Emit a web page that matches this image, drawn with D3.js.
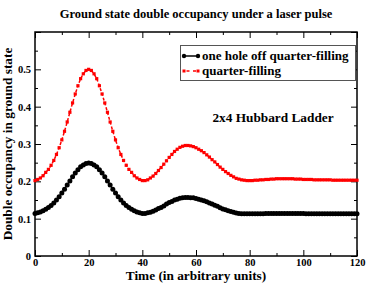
<!DOCTYPE html>
<html>
<head>
<meta charset="utf-8">
<script src="https://cdn.jsdelivr.net/npm/d3@7"></script>
<style>
  body { margin: 0; background: #fff; }
  svg text { font-family: "Liberation Serif", "Times New Roman", serif; font-weight: bold; fill: #000; }
</style>
</head>
<body>
<div id="chart"></div>
<script>
// time axis, one sample per unit
var times = d3.range(0, 121);

// one hole off quarter-filling (black)
var oneHoleOff = [
  0.114, 0.116, 0.118, 0.121, 0.125, 0.130, 0.135, 0.142, 0.150, 0.159,
  0.169, 0.179, 0.190, 0.201, 0.212, 0.222, 0.231, 0.239, 0.244, 0.248,
  0.249, 0.248, 0.244, 0.239, 0.231, 0.222, 0.212, 0.201, 0.190, 0.179,
  0.169, 0.159, 0.150, 0.142, 0.135, 0.130, 0.125, 0.121, 0.118, 0.116,
  0.114, 0.114, 0.116, 0.117, 0.120, 0.123, 0.127, 0.130, 0.134, 0.139,
  0.143, 0.146, 0.150, 0.152, 0.155, 0.156, 0.157, 0.157, 0.156, 0.156,
  0.154, 0.152, 0.150, 0.148, 0.145, 0.142, 0.139, 0.136, 0.133, 0.129,
  0.126, 0.124, 0.121, 0.119, 0.117, 0.115, 0.114, 0.113, 0.113, 0.113,
  0.113, 0.113, 0.113, 0.113, 0.113, 0.113, 0.114, 0.114, 0.114, 0.114,
  0.114, 0.114, 0.114, 0.114, 0.114, 0.114, 0.114, 0.114, 0.114, 0.114,
  0.114, 0.113, 0.113, 0.113, 0.113, 0.113, 0.113, 0.113, 0.113, 0.113,
  0.113, 0.113, 0.113, 0.113, 0.113, 0.113, 0.113, 0.113, 0.113, 0.113,
  0.113
];

// quarter-filling (red)
var quarterFilling = [
  0.202, 0.205, 0.209, 0.215, 0.224, 0.232, 0.243, 0.256, 0.272, 0.290,
  0.311, 0.334, 0.359, 0.385, 0.410, 0.434, 0.456, 0.475, 0.488, 0.497,
  0.500, 0.497, 0.488, 0.475, 0.456, 0.434, 0.410, 0.385, 0.359, 0.334,
  0.311, 0.290, 0.272, 0.256, 0.243, 0.232, 0.224, 0.215, 0.209, 0.205,
  0.202, 0.202, 0.204, 0.209, 0.214, 0.221, 0.229, 0.237, 0.246, 0.255,
  0.264, 0.272, 0.280, 0.286, 0.291, 0.294, 0.296, 0.296, 0.295, 0.293,
  0.290, 0.286, 0.282, 0.277, 0.271, 0.265, 0.258, 0.252, 0.245, 0.238,
  0.232, 0.226, 0.221, 0.216, 0.212, 0.208, 0.206, 0.204, 0.203, 0.202,
  0.202, 0.202, 0.203, 0.203, 0.204, 0.204, 0.205, 0.205, 0.206, 0.206,
  0.207, 0.207, 0.207, 0.207, 0.207, 0.207, 0.207, 0.206, 0.206, 0.206,
  0.205, 0.205, 0.205, 0.205, 0.204, 0.204, 0.204, 0.204, 0.204, 0.204,
  0.204, 0.203, 0.203, 0.203, 0.203, 0.203, 0.203, 0.203, 0.203, 0.203,
  0.203
];

var xMajor = [0, 20, 40, 60, 80, 100, 120];
var xMinor = [10, 30, 50, 70, 90, 110];
var yMajor = [0, 0.1, 0.2, 0.3, 0.4, 0.5, 0.6];
var yMinor = [0.05, 0.15, 0.25, 0.35, 0.45, 0.55];
var yLabels = [0, 0.1, 0.2, 0.3, 0.4, 0.5];

var W = 368, H = 286;
var m = { left: 35, right: 357, top: 32, bottom: 256 };

var svg = d3.select('#chart').append('svg').attr('width', W).attr('height', H);

var x = d3.scaleLinear().domain([0, 120]).range([m.left, m.right]);
var y = d3.scaleLinear().domain([0, 0.6]).range([m.bottom, m.top]);

var fmtY = d => d === 0 ? '0' : d3.format('.1f')(d);

// axes: ticks point inward on all four sides
function styleAxis(g) {
    g.select('.domain').remove();
    g.selectAll('.tick line').attr('stroke', '#000').attr('stroke-width', 1);
    g.selectAll('text').style('font-size', '10.5px');
}
svg.append('g').attr('transform', `translate(0,${m.bottom})`)
    .call(d3.axisBottom(x).tickValues(xMajor).tickSize(-6).tickPadding(3).tickFormat(d3.format('d'))).call(styleAxis);
svg.append('g').attr('transform', `translate(0,${m.bottom})`)
    .call(d3.axisBottom(x).tickValues(xMinor).tickSize(-3).tickFormat('')).call(styleAxis);
svg.append('g').attr('transform', `translate(0,${m.top})`)
    .call(d3.axisTop(x).tickValues(xMajor).tickSize(-6).tickFormat('')).call(styleAxis);
svg.append('g').attr('transform', `translate(0,${m.top})`)
    .call(d3.axisTop(x).tickValues(xMinor).tickSize(-3).tickFormat('')).call(styleAxis);
svg.append('g').attr('transform', `translate(${m.left},0)`)
    .call(d3.axisLeft(y).tickValues(yMajor).tickSize(-6).tickPadding(4).tickFormat(d => yLabels.includes(d) ? fmtY(d) : '')).call(styleAxis);
svg.append('g').attr('transform', `translate(${m.left},0)`)
    .call(d3.axisLeft(y).tickValues(yMinor).tickSize(-3).tickFormat('')).call(styleAxis);
svg.append('g').attr('transform', `translate(${m.right},0)`)
    .call(d3.axisRight(y).tickValues(yMajor).tickSize(-6).tickFormat('')).call(styleAxis);
svg.append('g').attr('transform', `translate(${m.right},0)`)
    .call(d3.axisRight(y).tickValues(yMinor).tickSize(-3).tickFormat('')).call(styleAxis);

// frame
svg.append('rect').attr('x', m.left).attr('y', m.top).attr('width', m.right - m.left).attr('height', m.bottom - m.top)
    .attr('fill', 'none').attr('stroke', '#000').attr('stroke-width', 1.5);

// series
var blackPts = times.map((t, i) => [t, oneHoleOff[i]]);
var redPts = times.map((t, i) => [t, quarterFilling[i]]);
var line = d3.line().x(d => x(d[0])).y(d => y(d[1]));

var plot = svg.append('g');
plot.append('path').datum(blackPts).attr('d', line).attr('fill', 'none').attr('stroke', '#000').attr('stroke-width', 1.5);
plot.selectAll('circle.b').data(blackPts).join('circle').attr('class', 'b')
    .attr('cx', d => x(d[0])).attr('cy', d => y(d[1])).attr('r', 2.5).attr('fill', '#000');

plot.append('path').datum(redPts).attr('d', line).attr('fill', 'none').attr('stroke', '#ff0000')
    .attr('stroke-width', 1.5).attr('stroke-dasharray', '3,2');
plot.selectAll('rect.r').data(redPts).join('rect').attr('class', 'r')
    .attr('x', d => x(d[0]) - 1.6).attr('y', d => y(d[1]) - 1.6).attr('width', 3.2).attr('height', 3.2).attr('fill', '#ff0000');

// legend
var lg = svg.append('g');
lg.append('rect').attr('x', 180.5).attr('y', 45.5).attr('width', 175).attr('height', 35)
    .attr('fill', '#fff').attr('stroke', '#555').attr('stroke-width', 1);
lg.append('line').attr('x1', 184).attr('x2', 198).attr('y1', 56).attr('y2', 56).attr('stroke', '#000').attr('stroke-width', 1.5);
[184, 198].forEach(cx => lg.append('circle').attr('cx', cx).attr('cy', 56).attr('r', 2.2).attr('fill', '#000'));
lg.append('line').attr('x1', 184).attr('x2', 198).attr('y1', 71).attr('y2', 71).attr('stroke', '#ff0000')
    .attr('stroke-width', 1.5).attr('stroke-dasharray', '3,3.5').attr('stroke-dashoffset', -2.5);
[184, 198].forEach(cx => lg.append('rect').attr('x', cx - 1.5).attr('y', 69.5).attr('width', 3).attr('height', 3).attr('fill', '#ff0000'));
lg.append('text').attr('x', 202).attr('y', 60).style('font-size', '13px').text('one hole off quarter-filling');
lg.append('text').attr('x', 202).attr('y', 75).style('font-size', '13px').text('quarter-filling');

// annotation
svg.append('text').attr('x', 273).attr('y', 122).attr('text-anchor', 'middle').style('font-size', '13.3px').text('2x4 Hubbard Ladder');

// titles
svg.append('text').attr('x', (m.left + m.right) / 2).attr('y', 18).attr('text-anchor', 'middle').style('font-size', '12.5px')
    .text('Ground state double occupancy under a laser pulse');
svg.append('text').attr('x', (m.left + m.right) / 2).attr('y', 280).attr('text-anchor', 'middle').style('font-size', '13.3px')
    .text('Time (in arbitrary units)');
svg.append('text').attr('transform', `translate(12,${(m.top + m.bottom) / 2}) rotate(-90)`).attr('text-anchor', 'middle').style('font-size', '13.3px')
    .text('Double occupancy in ground state');
</script>
</body>
</html>
